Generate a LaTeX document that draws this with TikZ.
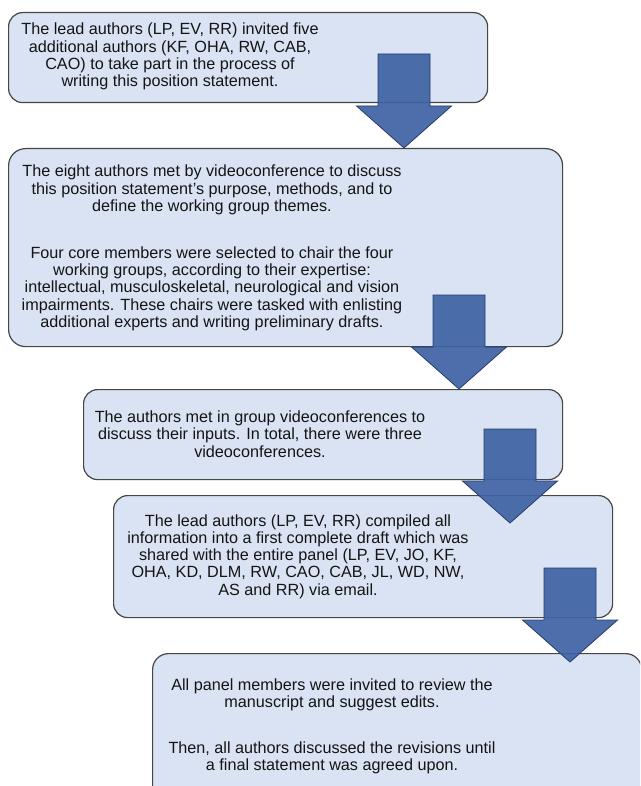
\documentclass[tikz,border=0pt]{standalone}
\usepackage{fontspec}
\setmainfont{Liberation Sans}
\definecolor{boxfill}{RGB}{218,227,243}
\definecolor{boxline}{RGB}{70,70,70}
\definecolor{arrowfill}{RGB}{64,99,164}
\definecolor{arrowline}{RGB}{38,60,108}
\tikzset{
  flowbox/.style={draw=boxline, fill=boxfill, line width=1.2pt, rounded corners=14pt,
    inner sep=0pt, anchor=north west},
  flowtext/.style={align=center, font=\fontsize{16.2}{17.3}\selectfont, text=black!92,
    inner sep=0pt},
  blockarrow/.pic={
    \filldraw[fill=arrowfill, fill opacity=0.93, draw=arrowline, line width=0.8pt, line join=miter]
      (0,0) -- (-47.5,-42) -- (-26,-42) -- (-26,-94) -- (26,-94) -- (26,-42) -- (47.5,-42) -- cycle;
  }
}
\begin{document}
\begin{tikzpicture}[x=1pt, y=-1pt]
  \useasboundingbox (0,0) rectangle (640,786);
  \clip (0,0) rectangle (640,786);
  \fill[white] (0,0) rectangle (640,786);

  % boxes
  \node[flowbox, minimum width=479pt, minimum height=90pt] (b1) at (8,12) {};
  \node[flowbox, minimum width=554pt, minimum height=198pt, rounded corners=17pt] (b2) at (8,148) {};
  \node[flowbox, minimum width=479pt, minimum height=90pt] (b3) at (83,389) {};
  \node[flowbox, minimum width=499pt, minimum height=122pt] (b4) at (113,495) {};
  \node[flowbox, minimum width=489pt, minimum height=150pt, rounded corners=16pt] (b5) at (152,653) {};

  % texts
  \node[flowtext] (t1) at (170,56.5) {The lead authors (LP, EV, RR) invited five\\
    additional authors (KF, OHA, RW, CAB,\\
    CAO) to take part in the process of\\
    writing this position statement.};
  \node[flowtext] (t2) at (212,248) {The eight authors met by videoconference to discuss\\
    this position statement’s purpose, methods, and to\\
    define the working group themes.\\[29.7pt]
    Four core members were selected to chair the four\\
    working groups, according to their expertise:\\
    intellectual, musculoskeletal, neurological and vision\\
    impairments. These chairs were tasked with enlisting\\
    additional experts and writing preliminary drafts.};
  \node[flowtext] (t3) at (260,434) {The authors met in group videoconferences to\\
    discuss their inputs. In total, there were three\\
    videoconferences.};
  \node[flowtext] (t4) at (298,556.5) {The lead authors (LP, EV, RR) compiled all\\
    information into a first complete draft which was\\
    shared with the entire panel (LP, EV, JO, KF,\\
    OHA, KD, DLM, RW, CAO, CAB, JL, WD, NW,\\
    AS and RR) via email.};
  \node[flowtext] (t5) at (332,726.5) {All panel members were invited to review the\\
    manuscript and suggest edits.\\[28.7pt]
    Then, all authors discussed the revisions until\\
    a final statement was agreed upon.};

  % block arrows (tips tied to the box they point into)
  \coordinate (tip1) at ([xshift=396pt]b2.north west);
  \coordinate (tip2) at ([xshift=376pt]b3.north west);
  \coordinate (tip3) at ([xshift=397pt,yshift=-28pt]b4.north west);
  \coordinate (tip4) at ([xshift=418pt,yshift=-9pt]b5.north west);
  \pic (a1) at (tip1) {blockarrow};
  \pic (a2) at (tip2) {blockarrow};
  \pic (a3) at (tip3) {blockarrow};
  \pic (a4) at (tip4) {blockarrow};
\end{tikzpicture}
\end{document}
